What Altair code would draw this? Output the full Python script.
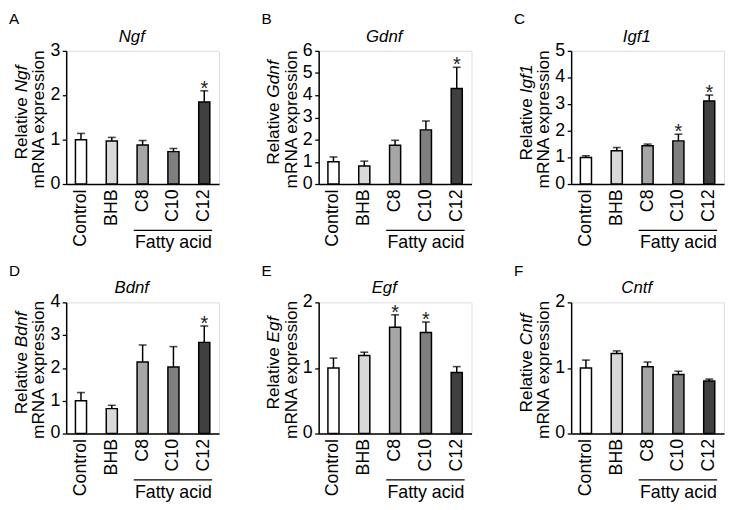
import altair as alt
import pandas as pd

groups = ["Control", "BHB", "C8", "C10", "C12"]
colors = ["#ffffff", "#d9d9d9", "#a6a6a6", "#7f7f7f", "#404040"]

letters = ["A", "B", "C", "D", "E", "F"]
genes = ["Ngf", "Gdnf", "Igf1", "Bdnf", "Egf", "Cntf"]
ymaxs = [3, 6, 5, 4, 2, 2]
yticks = [[0, 1, 2, 3], [0, 1, 2, 3, 4, 5, 6], [0, 1, 2, 3, 4, 5],
          [0, 1, 2, 3, 4], [0, 1, 2], [0, 1, 2]]

ngf_mean = [1.00, 0.97, 0.88, 0.73, 1.85]
ngf_sem = [0.14, 0.08, 0.10, 0.07, 0.25]
gdnf_mean = [1.00, 0.81, 1.75, 2.44, 4.30]
gdnf_sem = [0.22, 0.22, 0.22, 0.40, 0.96]
igf1_mean = [1.00, 1.25, 1.44, 1.62, 3.12]
igf1_sem = [0.06, 0.12, 0.06, 0.25, 0.22]
bdnf_mean = [1.00, 0.76, 2.18, 2.03, 2.78]
bdnf_sem = [0.25, 0.10, 0.52, 0.62, 0.50]
egf_mean = [1.00, 1.19, 1.62, 1.54, 0.93]
egf_sem = [0.15, 0.05, 0.19, 0.16, 0.09]
cntf_mean = [1.00, 1.22, 1.02, 0.90, 0.80]
cntf_sem = [0.12, 0.04, 0.07, 0.05, 0.03]

means = [ngf_mean, gdnf_mean, igf1_mean, bdnf_mean, egf_mean, cntf_mean]
sems = [ngf_sem, gdnf_sem, igf1_sem, bdnf_sem, egf_sem, cntf_sem]
stars = [["C12"], ["C12"], ["C10", "C12"], ["C12"], ["C8", "C10"], []]

FONT = "Liberation Sans"
W = 155
HEIGHTS = [135, 135, 135, 133, 133, 133]

# Arial / Liberation Sans advance widths (per em) for title layout
AW = {" ": 0.278, "R": 0.722, "e": 0.556, "l": 0.222, "a": 0.556,
      "t": 0.278, "i": 0.222, "v": 0.5, "N": 0.722, "g": 0.556, "f": 0.278,
      "G": 0.778, "d": 0.556, "n": 0.556, "I": 0.278, "1": 0.556, "B": 0.667,
      "E": 0.667, "C": 0.722}


def tw(s, size):
    return sum(AW.get(c, 0.556) for c in s) * size


def panel(i):
    letter, gene, ymax, H = letters[i], genes[i], ymaxs[i], HEIGHTS[i]
    df = pd.DataFrame({"group": groups, "mean": means[i], "sem": sems[i]})
    df["top"] = df["mean"] + df["sem"]
    df["star"] = ["*" if g in stars[i] else "" for g in groups]

    x_axis = alt.Axis(title=None, labelAngle=270, ticks=False, labelPadding=5,
                      labelFontSize=18, labelColor="black", labelFont=FONT,
                      domainColor="black", domainWidth=1.5)
    x_scale = alt.Scale(domain=groups, paddingInner=0.64, paddingOuter=0.3)
    y_axis = alt.Axis(title=None, values=yticks[i], tickCount=len(yticks[i]) + 5,
                      labels=False, grid=False,
                      tickSize=4, tickColor="black", tickWidth=1.3,
                      domainColor="black", domainWidth=1.5)
    y_scale = alt.Scale(domain=[0, ymax], nice=False, zero=True)

    def X(field):
        return alt.X(field, sort=groups, scale=x_scale, axis=x_axis)

    def Y(field):
        return alt.Y(field, scale=y_scale, axis=y_axis)

    base = alt.Chart(df)
    bars = base.mark_bar(stroke="black", strokeWidth=1.5).encode(
        x=X("group:N"), y=Y("mean:Q"),
        fill=alt.Fill("group:N", scale=alt.Scale(domain=groups, range=colors), legend=None))
    err = base.mark_rule(color="black", strokeWidth=1.5).encode(
        x=X("group:N"), y=Y("mean:Q"), y2="top:Q")
    cap = base.mark_tick(color="black", size=8, thickness=1.6).encode(
        x=X("group:N"), y=Y("top:Q"))
    star = base.mark_text(font=FONT, fontSize=20, baseline="alphabetic", dy=4,
                          color="#222222").encode(
        x=X("group:N"), y=Y("top:Q"), text="star:N")

    # y tick labels placed through the y scale
    tdf = pd.DataFrame({"v": yticks[i], "lab": [str(v) for v in yticks[i]]})
    ylab = alt.Chart(tdf).mark_text(font=FONT, fontSize=18, align="right",
                                    baseline="middle", color="black").encode(
        y=Y("v:Q"), x=alt.value(-6), text="lab:N")

    # Fatty acid bracket
    fa = pd.DataFrame({"a": ["C8"], "b": ["C12"], "m": ["C10"], "t": ["Fatty acid"]})
    fa_line = alt.Chart(fa).mark_rule(color="black", strokeWidth=1.3, xOffset=-9,
                                      x2Offset=8).encode(
        x=X("a:N"), x2="b:N", y=alt.value(H + 47))
    fa_text = alt.Chart(fa).mark_text(font=FONT, fontSize=18, baseline="alphabetic",
                                      color="black").encode(
        x=X("m:N"), y=alt.value(H + 65), text="t:N")

    # Panel letter & gene title
    lt = alt.Chart(pd.DataFrame({"t": [letter]})).mark_text(
        font=FONT, fontSize=15.5, align="left", baseline="top", color="black"
    ).encode(x=alt.value(-58), y=alt.value(-39), text="t:N")
    gt = alt.Chart(pd.DataFrame({"t": [gene]})).mark_text(
        font=FONT, fontSize=17, fontStyle="italic", align="center",
        baseline="alphabetic", color="black"
    ).encode(x=alt.value(W / 2 - 11), y=alt.value(-9), text="t:N")

    # y title: "Relative <gene>" (gene italic) and "mRNA expression"
    fs = 17.5
    rel = "Relative"
    w1 = tw(rel, fs)
    gap = tw(" ", fs)
    w2 = tw(gene, fs)
    mid1 = H / 2 - 5
    total = w1 + gap + w2
    bottom = mid1 + total / 2
    yt1 = alt.Chart(pd.DataFrame({"t": [rel]})).mark_text(
        font=FONT, fontSize=fs, angle=270, align="left", baseline="alphabetic",
        color="black").encode(x=alt.value(-40), y=alt.value(bottom), text="t:N")
    yt2 = alt.Chart(pd.DataFrame({"t": [gene]})).mark_text(
        font=FONT, fontSize=fs, angle=270, align="left", baseline="alphabetic",
        fontStyle="italic", color="black").encode(
        x=alt.value(-40), y=alt.value(bottom - w1 - gap), text="t:N")
    yt3 = alt.Chart(pd.DataFrame({"t": ["mRNA expression"]})).mark_text(
        font=FONT, fontSize=fs, angle=270, align="center", baseline="alphabetic",
        color="black").encode(x=alt.value(-22), y=alt.value(H / 2 + 2), text="t:N")

    return alt.layer(bars, err, cap, star, ylab, fa_line, fa_text, lt, gt,
                     yt1, yt2, yt3).properties(width=W, height=H)


chart = alt.concat(*[panel(i) for i in range(6)], columns=3,
                   spacing={"row": 10, "column": 41}).properties(
    padding={"left": 0, "top": 0, "right": 0, "bottom": 0}
).configure_view(stroke=None).configure(font=FONT)

chart.save("out.html", embed_options={"renderer": "svg", "actions": False})
